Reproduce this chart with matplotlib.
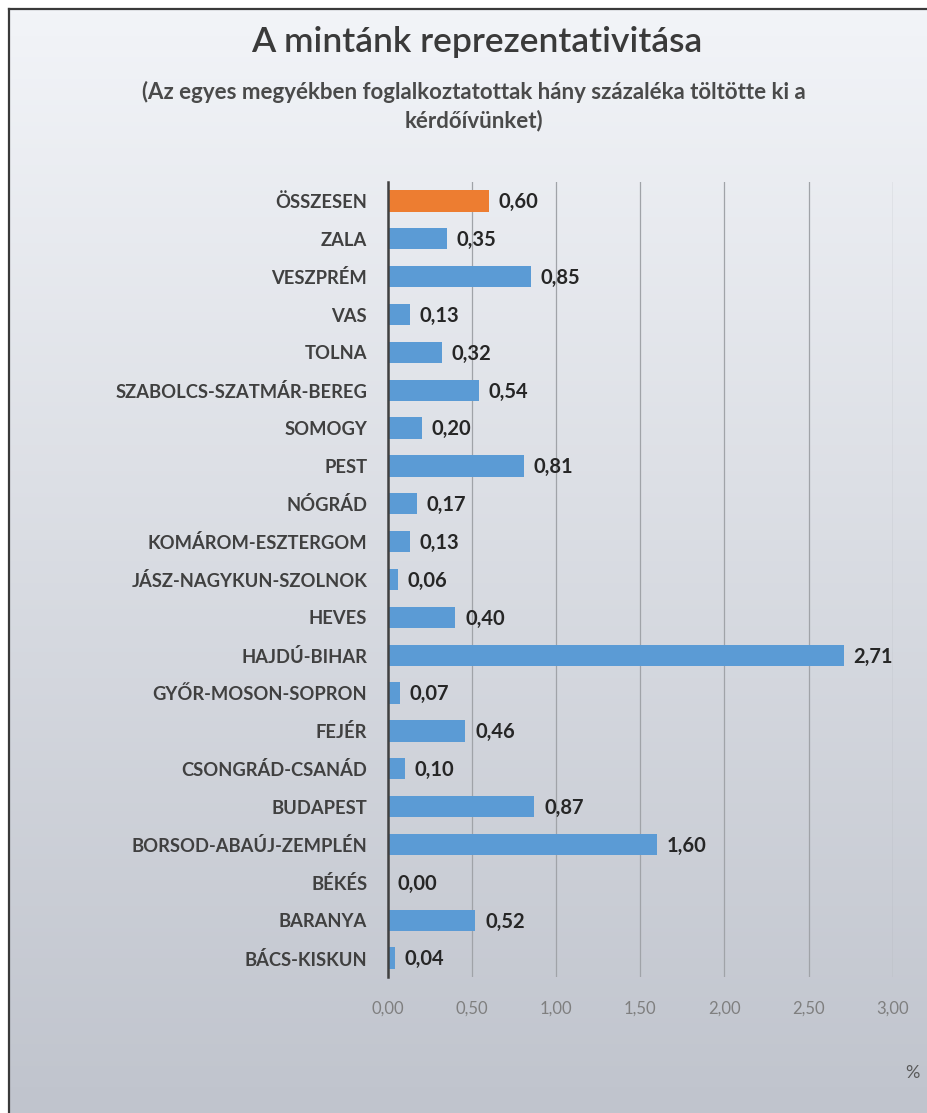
import numpy as np
import matplotlib
matplotlib.use("Agg")
import matplotlib.pyplot as plt
from matplotlib.lines import Line2D

plt.rcParams['font.family'] = ['Lato', 'DejaVu Sans']

# data, top to bottom as in the chart
megyek = ['ÖSSZESEN', 'ZALA', 'VESZPRÉM', 'VAS', 'TOLNA', 'SZABOLCS-SZATMÁR-BEREG',
          'SOMOGY', 'PEST', 'NÓGRÁD', 'KOMÁROM-ESZTERGOM', 'JÁSZ-NAGYKUN-SZOLNOK',
          'HEVES', 'HAJDÚ-BIHAR', 'GYŐR-MOSON-SOPRON', 'FEJÉR', 'CSONGRÁD-CSANÁD',
          'BUDAPEST', 'BORSOD-ABAÚJ-ZEMPLÉN', 'BÉKÉS', 'BARANYA', 'BÁCS-KISKUN']
aranyok = [0.60, 0.35, 0.85, 0.13, 0.32, 0.54, 0.20, 0.81, 0.17, 0.13, 0.06,
           0.40, 2.71, 0.07, 0.46, 0.10, 0.87, 1.60, 0.00, 0.52, 0.04]
x_ticks = [0, 0.5, 1.0, 1.5, 2.0, 2.5, 3.0]

W, H = 928, 1113
fig = plt.figure(figsize=(W / 100, H / 100), dpi=100, facecolor='white')

# background gradient inside the frame
bg = fig.add_axes([10 / W, 0, 1 - 10 / W, 1 - 10 / H], zorder=-10)
top_c = np.array([242, 244, 248]) / 255
bot_c = np.array([192, 196, 205]) / 255
t = np.linspace(0, 1, 256)[:, None, None]
grad = top_c * (1 - t) + bot_c * t
grad = np.repeat(grad, 2, axis=1)
bg.imshow(grad, aspect='auto', extent=[0, 1, 0, 1])
bg.axis('off')

# frame lines (left and top)
fig.add_artist(Line2D([9 / W, 9 / W], [0, 1 - 9 / H], color='#3a3a3a', lw=1.6,
                      transform=fig.transFigure))
fig.add_artist(Line2D([9 / W, 1], [1 - 9 / H, 1 - 9 / H], color='#3a3a3a', lw=1.6,
                      transform=fig.transFigure))

ax = fig.add_axes([388 / W, 1 - 977 / H, (892.6 - 388) / W, (977 - 182) / H])
ax.set_facecolor('none')

y = np.arange(len(megyek))[::-1]
colors = ['#ed7d31'] + ['#5b9bd5'] * (len(megyek) - 1)
ax.barh(y, aranyok, height=0.56, color=colors, zorder=3)

for yi, v in zip(y, aranyok):
    ax.annotate(f"{v:.2f}".replace('.', ','), (v, yi), xytext=(7, -1),
                textcoords='offset points', va='center', ha='left',
                fontsize=14.5, fontweight='bold', color='#262626')

ax.set_xlim(0, 3.0)
ax.set_ylim(-0.5, len(megyek) - 0.5)
ax.set_xticks(x_ticks)
ax.set_xticklabels([f"{v:.2f}".replace('.', ',') for v in x_ticks])
ax.set_yticks(y)
ax.set_yticklabels(megyek)
ax.tick_params(axis='y', length=0, pad=15, labelsize=13.2, labelcolor='#404040')
ax.tick_params(axis='x', length=0, pad=17, labelsize=12, labelcolor='#7f7f7f')
for lbl in ax.get_yticklabels():
    lbl.set_fontweight('bold')

ax.grid(axis='x', color='#a0a3a8', lw=0.9, zorder=0)
for s in ['top', 'right', 'bottom']:
    ax.spines[s].set_visible(False)
ax.spines['left'].set_color('#404040')
ax.spines['left'].set_linewidth(1.8)
ax.spines['left'].set_zorder(4)

fig.text(477 / W, 1 - 42 / H, 'A mintánk reprezentativitása', ha='center', va='center',
         fontsize=25.5, fontweight='semibold', color='#3a3a3a')
fig.text(474 / W, 1 - 92 / H, '(Az egyes megyékben foglalkoztatottak hány százaléka töltötte ki a',
         ha='center', va='center', fontsize=16, fontweight='bold', color='#4a4a4a')
fig.text(474 / W, 1 - 121 / H, 'kérdőívünket)', ha='center', va='center',
         fontsize=16, fontweight='bold', color='#4a4a4a')
fig.text(912 / W, 1 - 1073 / H, '%', ha='center', va='center', fontsize=13, color='#595959')

fig.savefig('out.png', dpi=100, facecolor='white')
